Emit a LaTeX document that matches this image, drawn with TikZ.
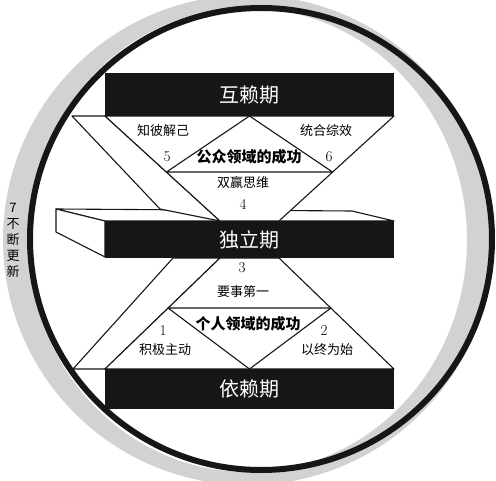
\documentclass[tikz,border=0pt]{standalone}
\usepackage{fontspec}
\newfontfamily\cjk{Noto Sans CJK SC}
\usepackage{tikz}
\usetikzlibrary{calc}
\definecolor{ink}{HTML}{161616}
\definecolor{sweep}{HTML}{D2D2D2}

\begin{document}
\begin{tikzpicture}[x=1pt,y=-1pt,line width=1.1pt,
  bar/.style={fill=ink,text=white,minimum width=289pt,inner sep=0pt,
    font=\cjk\fontsize{20}{20}\selectfont},
  face/.style={draw=ink,fill=white,line join=round},
  habit/.style={inner sep=0pt,font=\cjk\fontsize{13}{13}\selectfont},
  zone/.style={inner sep=0pt,font=\cjk\bfseries\fontsize{15}{15}\selectfont},
  num/.style={inner sep=0pt,font=\fontsize{15}{15}\selectfont}]
  \useasboundingbox (0,0) rectangle (496,481);

  % Grey sweep and outer ring.
  \fill[sweep,even odd rule] (248,240) circle (245)
    (247.5,240) ellipse (219.5 and 232);
  \draw[ink,line width=6pt] (261,239) circle (231);

  % Middle slab, top and left faces.
  \draw[face] (56,209) -- (352,211) -- (394,221) -- (105,221) -- cycle;
  \draw[face] (56,209) -- (105,221) -- (105,257) -- (56,232) -- cycle;

  % Bands and hourglass.
  \draw[face] (72,116) -- (105,116) -- (220,221) -- (160,209) -- cycle;
  \draw[face] (105,116) -- (394,116) -- (279,221) -- (220,221) -- cycle;
  \draw[face] (173,258) -- (220,258) -- (105,369) -- (73,369) -- cycle;
  \draw[face] (220,258) -- (279,258) -- (394,369) -- (105,369) -- cycle;
  \draw[face] (249.5,116) -- (332.5,172) -- (166.5,172) -- cycle;
  \draw[face] (168,308) -- (331,308) -- (249.5,369) -- cycle;

  \node[bar,minimum height=43pt] (hulai) at (249.5,94.5) {互赖期};
  \node[bar,minimum height=37pt] (duli) at (249.5,239.5) {独立期};
  \node[bar,minimum height=40pt] (yilai) at (249.5,389) {依赖期};

  \node[habit] (h5) at (163,131) {知彼解己};
  \node[habit] (h6) at (326,131) {统合综效};
  \node[num] (n5) at (167,157) {5};
  \node[num] (n6) at (329,157) {6};
  \node[zone] (public) at (249,157) {公众领域的成功};
  \node[habit] (h4) at (243,183) {双赢思维};
  \node[num] (n4) at (243,204) {4};
  \node[num] (n3) at (242,268) {3};
  \node[habit] (h3) at (243,292) {要事第一};
  \node[zone] (private) at (248,324) {个人领域的成功};
  \node[num] (n1) at (163,331) {1};
  \node[habit] (h1) at (165,350) {积极主动};
  \node[num] (n2) at (324,331) {2};
  \node[habit] (h2) at (327,350) {以终为始};

  \foreach \ch [count=\i from 0] in {7,不,断,更,新}
    \node[habit] (renew\i) at (13,208+16*\i) {\ch};
\end{tikzpicture}
\end{document}
